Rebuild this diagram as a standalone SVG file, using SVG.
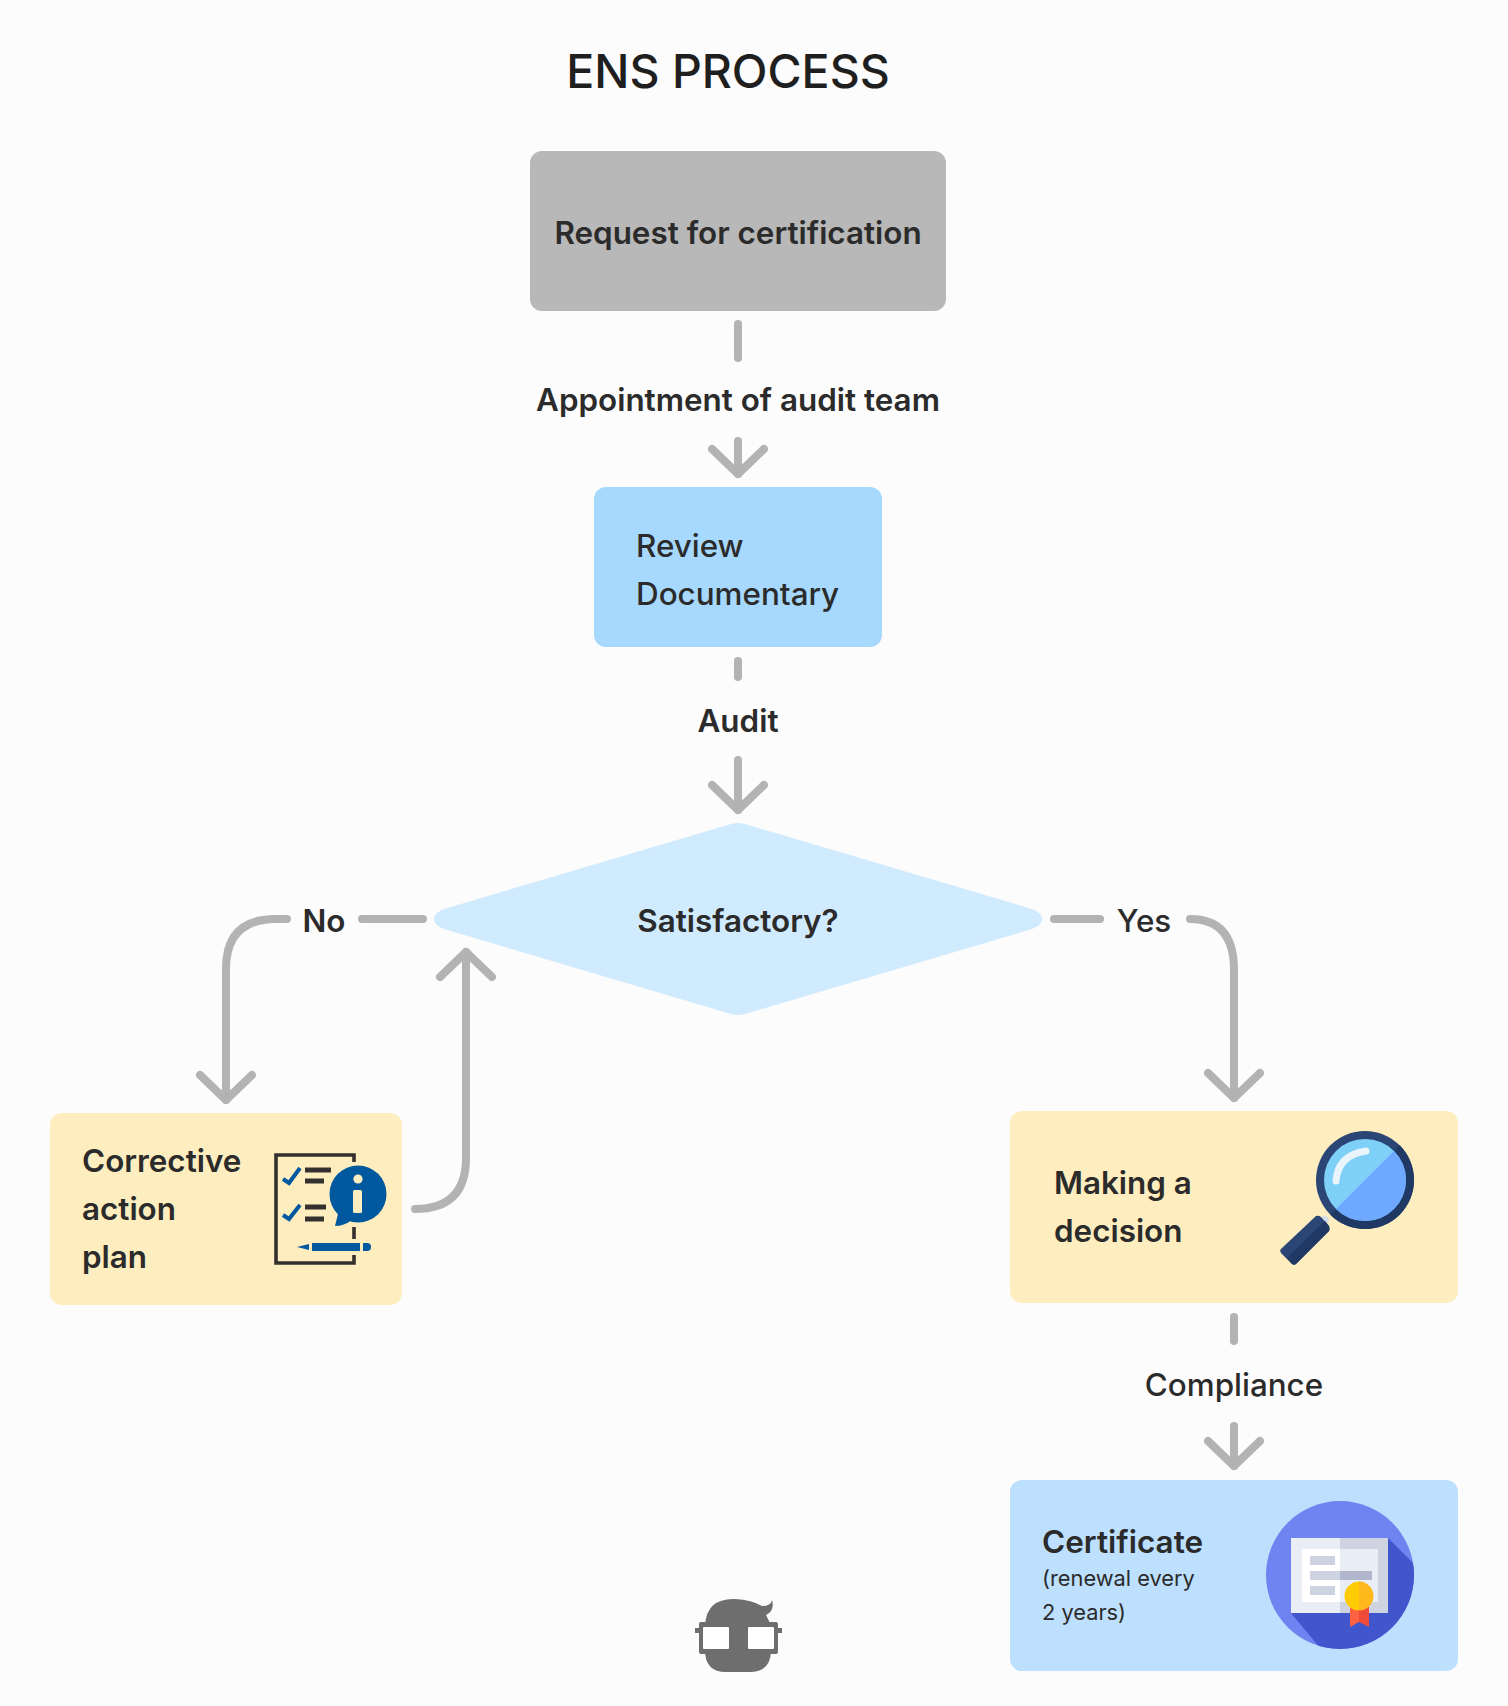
<svg xmlns="http://www.w3.org/2000/svg" width="1508" height="1706" viewBox="0 0 1508 1706">
<defs>
<style>
text{font-family:Inter,"Noto Sans",sans-serif;fill:#2b2b2b}
.t{font-size:31.4px;font-weight:600}
.m{font-size:31.4px;font-weight:500}
.c{text-anchor:middle}
.ln{fill:none;stroke:#b3b3b3;stroke-width:8;stroke-linecap:round;stroke-linejoin:round}
</style>
<marker id="arrow" markerUnits="userSpaceOnUse" viewBox="-32 -32 40 64" refX="0" refY="0" markerWidth="40" markerHeight="64" orient="auto">
<path d="M-25 -26L0 0L-25 26" class="ln"/>
</marker>
<clipPath id="cc"><circle cx="1340" cy="1575" r="74"/></clipPath>
<clipPath id="lens"><circle cx="1365" cy="1180" r="49"/></clipPath>
</defs>
<rect width="1508" height="1706" fill="#fcfcfc"/>
<text id="title" x="728" y="88" class="c" font-size="46.500" font-weight="500" style="fill:#1f1f1f">ENS PROCESS</text>
<g id="connectors">
<path class="ln" d="M738 324V358"/>
<path class="ln" d="M738 441V474" marker-end="url(#arrow)"/>
<path class="ln" d="M738 661V677"/>
<path class="ln" d="M738 760V810" marker-end="url(#arrow)"/>
<path class="ln" d="M287 919H276Q226 919 226 969V1100" marker-end="url(#arrow)"/>
<path class="ln" d="M362 919H423"/>
<path class="ln" d="M415 1209Q466 1209 466 1158V952" marker-end="url(#arrow)"/>
<path class="ln" d="M1054 919H1100"/>
<path class="ln" d="M1190 919Q1234 919 1234 970V1098" marker-end="url(#arrow)"/>
<path class="ln" d="M1234 1317V1341"/>
<path class="ln" d="M1234 1426V1466" marker-end="url(#arrow)"/>
</g>
<g id="labels">
<text x="738" y="411" class="t c">Appointment of audit team</text>
<text x="738" y="732" class="t c">Audit</text>
<text x="324" y="932" class="t c">No</text>
<text x="1144" y="932" class="m c">Yes</text>
<text x="1234" y="1396" class="m c">Compliance</text>
</g>
<g id="request">
<rect x="530" y="151" width="416" height="160" rx="12" fill="#b8b8b8"/>
<text x="738" y="244" class="t c">Request for certification</text>
</g>
<g id="review">
<rect x="594" y="487" width="288" height="160" rx="12" fill="#a7d8fd"/>
<text x="636" y="557" class="m">Review</text>
<text x="636" y="605" class="m">Documentary</text>
</g>
<g id="satisfactory">
<path d="M738 823Q741 823 745 824L1032 909Q1042 913 1042 919Q1042 925 1032 929L745 1014Q738 1016 731 1014L444 929Q434 925 434 919Q434 913 444 909L731 824Q735 823 738 823Z" fill="#d0eafe"/>
<text x="738" y="932" class="t c">Satisfactory?</text>
</g>
<g id="corrective">
<rect x="50" y="1113" width="352" height="192" rx="12" fill="#feeebf"/>
<text x="82" y="1172" class="t">Corrective</text>
<text x="82" y="1220" class="t">action</text>
<text x="82" y="1268" class="t">plan</text>
<g id="checklist-icon">
<path d="M354 1162V1155H276V1263H354V1255M354 1227V1239" fill="none" stroke="#33302e" stroke-width="3.600"/>
<path d="M283 1179L289 1183L300 1168M283 1215L289 1219L300 1205" fill="none" stroke="#00589f" stroke-width="4"/>
<path d="M305 1170H331M305 1181H324M305 1207H326M305 1219H324" fill="none" stroke="#33302e" stroke-width="5"/>
<circle cx="358" cy="1194" r="28.500" fill="#00589f"/>
<path d="M338 1214L335 1226Q344 1226 352 1220Z" fill="#00589f"/>
<circle cx="358" cy="1179" r="4.600" fill="#feeebf"/>
<rect x="353" y="1190" width="9" height="23" rx="1.500" fill="#feeebf"/>
<path d="M297 1247L309 1244V1250Z" fill="#00589f"/>
<rect x="312" y="1243" width="48" height="8" fill="#00589f"/>
<path d="M363 1243H367A4 4 0 0 1 367 1251H363Z" fill="#00589f"/>
</g>
</g>
<g id="decision">
<rect x="1010" y="1111" width="448" height="192" rx="12" fill="#feeebf"/>
<text x="1054" y="1194" class="t">Making a</text>
<text x="1054" y="1242" class="t">decision</text>
<g id="magnifier-icon">
<path d="M1325 1215L1329 1219L1329 1221L1323 1228L1316 1222Z" fill="#d4dde8"/>
<path d="M1316 1216Q1319 1215 1321 1217L1329 1226Q1330 1229 1329 1231L1297 1263Q1295 1266 1292 1264L1281 1253Q1279 1250 1282 1248Z" fill="#2b4574"/>
<path d="M1325 1221L1329 1226Q1330 1229 1329 1231L1297 1263Q1295 1266 1292 1264L1287 1258Z" fill="#1f3864"/>
<g clip-path="url(#lens)">
<rect x="1310" y="1125" width="110" height="110" fill="#2b4574"/>
<path d="M1420 1125V1235H1310Z" fill="#1f3864"/>
</g>
<circle cx="1365" cy="1180" r="41" fill="#7ed0f8"/>
<path d="M1394 1151A41 41 0 0 1 1336 1209Z" fill="#6fa9ff"/>
<path d="M1336 1181Q1338 1155 1366 1151" fill="none" stroke="#eaf5fb" stroke-width="7" stroke-linecap="round"/>
</g>
</g>
<g id="certificate">
<rect x="1010" y="1480" width="448" height="191" rx="12" fill="#bde0fe"/>
<text x="1042" y="1553" font-size="31.500" font-weight="600">Certificate</text>
<text x="1042" y="1586" font-size="21.800" font-weight="400">(renewal every</text>
<text x="1042" y="1620" font-size="21.800" font-weight="400">2 years)</text>
<g id="certificate-icon">
<circle cx="1340" cy="1575" r="74" fill="#6f84f0"/>
<path d="M1388 1538L1420 1570V1660H1330L1291 1613Z" fill="#4155cc" clip-path="url(#cc)"/>
<rect x="1291" y="1538" width="49" height="75" fill="#e9edf5"/>
<rect x="1340" y="1538" width="48" height="75" fill="#cdd3e0"/>
<rect x="1302" y="1549" width="38" height="53" fill="#fff"/>
<rect x="1340" y="1549" width="38" height="53" fill="#e9edf5"/>
<path d="M1310 1556H1335V1565H1310ZM1310 1571H1340V1580H1310ZM1310 1586H1335V1595H1310Z" fill="#cdd3e0"/>
<rect x="1340" y="1571" width="32" height="9" fill="#b0b7cc"/>
<path d="M1350 1606H1359V1622L1350 1627Z" fill="#ff6243"/>
<path d="M1359 1606H1369V1627L1359 1622Z" fill="#f04b3a"/>
<path d="M1359 1581.500A14.500 14.500 0 0 0 1359 1610.500Z" fill="#ffcb05"/>
<path d="M1359 1581.500A14.500 14.500 0 0 1 1359 1610.500Z" fill="#ffb81c"/>
</g>
</g>
<g id="mascot">
<path d="M705 1625Q707 1598 735 1599Q752 1600 762 1606Q771 1606 772 1600Q775 1611 766 1615L771 1625V1650Q771 1672 750 1672H726Q705 1672 705 1650Z" fill="#6e6e6e"/>
<path d="M695 1628H699V1624Q699 1622 701 1622H776Q778 1622 778 1624V1628H782V1633H778V1652Q778 1654 776 1654H701Q699 1654 699 1652V1633H695Z" fill="#6e6e6e"/>
<rect x="703" y="1627" width="26" height="22" rx="1" fill="#fff"/>
<rect x="748" y="1627" width="26" height="22" rx="1" fill="#fff"/>
</g>
</svg>
